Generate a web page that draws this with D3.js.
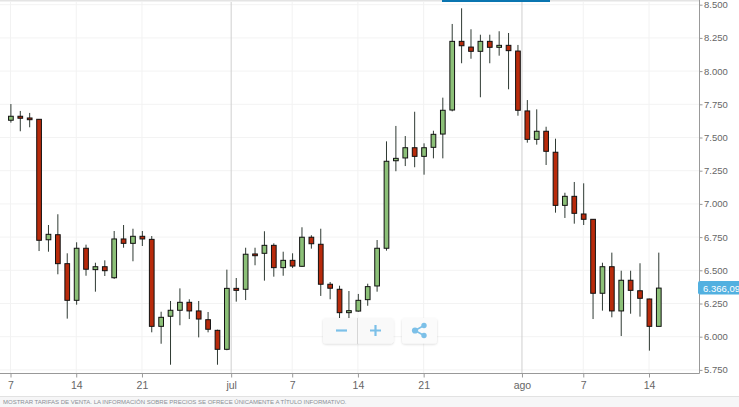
<!DOCTYPE html>
<html><head><meta charset="utf-8">
<script src="https://cdn.jsdelivr.net/npm/d3@7"></script>
<style>
html,body{margin:0;padding:0;background:#fff;overflow:hidden}
svg{display:block;font-family:"Liberation Sans",Arial,sans-serif}
</style></head><body><svg id="c" width="739" height="407"></svg>
<script>
const opens =[7630,7660,7647,7637,6730,6768,6550,6274,6666,6505,6527,6444,6736,6703,6756,6733,6078,6154,6199,6259,6194,6128,6048,5905,6364,6357,6623,6628,6688,6520,6575,6530,6749,6696,6395,6357,6181,6193,6279,6382,6666,7325,7346,7423,7358,7426,7526,7707,8224,8181,8149,8224,8179,8194,8151,7700,7486,7547,7389,6989,7057,6924,6884,6327,6527,6194,6425,6346,6284,6078];
const closes=[7660,7645,7634,6726,6771,6550,6274,6666,6508,6527,6497,6736,6703,6756,6736,6078,6146,6199,6259,6194,6133,6056,5905,6364,6349,6621,6610,6688,6520,6575,6532,6749,6700,6395,6365,6181,6196,6274,6377,6666,7321,7343,7423,7358,7423,7524,7705,8224,8191,8149,8224,8179,8194,8154,7705,7486,7547,7396,6989,7057,6929,6884,6327,6527,6194,6425,6349,6289,6078,6366];
const highs =[7752,7700,7685,7639,6841,6922,6628,6711,6693,6557,6575,6796,6841,6813,6796,6758,6188,6269,6364,6282,6269,6186,6053,6505,6442,6670,6670,6794,6703,6640,6628,6824,6764,6813,6412,6384,6344,6322,6399,6728,7471,7587,7511,7694,7456,7551,7800,8355,8473,8315,8274,8274,8300,8287,8197,7782,7712,7581,7491,7084,7165,7155,6886,6557,6633,6497,6497,6553,6286,6633];
const lows  =[7612,7547,7577,6645,6640,6470,6136,6241,6459,6339,6457,6435,6670,6568,6683,6033,5947,5789,6086,6133,5995,6033,5789,5898,6264,6276,6538,6422,6452,6459,6517,6525,6663,6307,6282,6101,6081,6188,6233,6339,6648,7246,7285,7276,7220,7343,7343,7697,8059,8093,7803,8059,8116,7863,7664,7461,7446,7293,6934,6894,6851,6841,6133,6196,6146,6005,6173,6151,5895,6078];
const tickSlots =[0,7,14,23.5,30,37,44,54.47,61,68];
const tickLabels=["7","14","21","jul","7","14","21","ago","7","14"];
const monthTicks=["jul","ago"];
const priceTicks=[5750,6000,6250,6500,6750,7000,7250,7500,7750,8000,8250,8500];
const lastPrice=6366.09;
const footer="MOSTRAR TARIFAS DE VENTA. LA INFORMACIÓN SOBRE PRECIOS SE OFRECE ÚNICAMENTE A TÍTULO INFORMATIVO.";

const svg=d3.select("#c");
const x=d3.scaleLinear().domain([0,68]).range([10.5,649]);
const y=d3.scaleLinear().domain([5750,8500]).range([369.9,4.7]);
const axisX=699.5, axisY=373.5;
const candleShift=0.4;
const fmt=d=>d3.format(",")(d).replace(",",".");

svg.append("rect").attr("x",0).attr("y",0).attr("width",699).attr("height",1.5).attr("fill","#e4e4e4");
svg.append("rect").attr("x",442).attr("y",0).attr("width",108).attr("height",2).attr("fill","#0a75b0");

svg.append("g").selectAll("line").data(priceTicks).join("line")
 .attr("x1",0).attr("x2",axisX).attr("y1",d=>y(d)).attr("y2",d=>y(d)).attr("stroke","#f3f3f3");
svg.append("g").selectAll("line").data(tickSlots).join("line")
 .attr("x1",(d)=>x(d)).attr("x2",d=>x(d)).attr("y1",2).attr("y2",axisY)
 .attr("stroke",(d,i)=>monthTicks.includes(tickLabels[i])?"#cfcfcf":"#f2f2f2");

const ax=svg.append("g").attr("transform",`translate(0,${axisY})`)
 .call(d3.axisBottom(x).tickValues(tickSlots).tickFormat((d,i)=>tickLabels[i]).tickSize(4).tickSizeOuter(0));
ax.select(".domain").remove();
svg.append("line").attr("x1",0).attr("x2",axisX).attr("y1",axisY).attr("y2",axisY).attr("stroke","#999");
ax.selectAll("line").attr("stroke","#999");
ax.selectAll("text").attr("fill","#666").attr("font-size",10.5).attr("y",8).attr("dy","0.71em");
const ay=svg.append("g").attr("transform",`translate(${axisX},0)`)
 .call(d3.axisRight(y).tickValues(priceTicks).tickFormat(fmt).tickSize(3).tickSizeOuter(0));
ay.select(".domain").remove();
svg.append("line").attr("x1",axisX).attr("x2",axisX).attr("y1",0).attr("y2",axisY).attr("stroke","#999");
ay.selectAll("line").attr("stroke","#999");
ay.selectAll("text").attr("fill","#666").attr("font-size",9.5).attr("x",4.5);

const idx=d3.range(opens.length);
const g=svg.append("g").attr("transform",`translate(${candleShift},0)`);
g.selectAll("line").data(idx).join("line")
 .attr("x1",i=>x(i)).attr("x2",i=>x(i)).attr("y1",i=>y(highs[i])).attr("y2",i=>y(lows[i]))
 .attr("stroke","#2f3a33").attr("stroke-width",1);
g.selectAll("rect").data(idx).join("rect")
 .attr("x",i=>x(i)-2.35).attr("width",4.7)
 .attr("y",i=>y(Math.max(opens[i],closes[i])))
 .attr("height",i=>Math.max(1,Math.abs(y(opens[i])-y(closes[i]))))
 .attr("fill",i=>closes[i]>=opens[i]?"#8cc078":"#b82a0b")
 .attr("stroke","#111").attr("stroke-width",1);

const tagY=y(lastPrice);
svg.append("rect").attr("x",698).attr("y",tagY-7).attr("width",43).attr("height",13.5).attr("rx",2).attr("fill","#52b0e0");
svg.append("text").attr("x",703).attr("y",tagY+3.7).attr("fill","#fff").attr("font-size",9.5).text(fmt(6366)+",09");

const defs=svg.append("defs");
const f=defs.append("filter").attr("id","sh").attr("x","-20%").attr("y","-20%").attr("width","140%").attr("height","140%");
f.append("feDropShadow").attr("dx",0).attr("dy",1).attr("stdDeviation",1).attr("flood-color","#000").attr("flood-opacity",0.15);
svg.append("rect").attr("x",323).attr("y",318).attr("width",70.5).attr("height",25.5).attr("rx",3).attr("fill","#f9f9f9").attr("filter","url(#sh)");
svg.append("rect").attr("x",402).attr("y",318).attr("width",35).attr("height",25.5).attr("rx",3).attr("fill","#fbfbfb").attr("filter","url(#sh)");
svg.append("line").attr("x1",357.5).attr("x2",357.5).attr("y1",318).attr("y2",344).attr("stroke","#d6d6d6");
const ic="#7cc0e8";
svg.append("path").attr("d","M336 330.5h11").attr("stroke",ic).attr("stroke-width",2.2).attr("fill","none");
svg.append("path").attr("d","M370 330.5h11M375.5 325v11").attr("stroke",ic).attr("stroke-width",2.2).attr("fill","none");
svg.append("path").attr("d","M424 325.5L415 330.5L424 335.5").attr("stroke",ic).attr("stroke-width",1.6).attr("fill","none");
[[424,325.5,2.7],[415,330.5,3.1],[424,335.5,2.7]].forEach(c=>svg.append("circle").attr("cx",c[0]).attr("cy",c[1]).attr("r",c[2]).attr("fill",ic));

svg.append("rect").attr("x",0).attr("y",397).attr("width",739).attr("height",10).attr("fill","#f6f6f7");
svg.append("line").attr("x1",0).attr("x2",739).attr("y1",396.5).attr("y2",396.5).attr("stroke","#e2e2e2");
svg.append("text").attr("x",3).attr("y",404).attr("fill","#8a8f96").attr("font-size",6).text(footer);
</script></body></html>
